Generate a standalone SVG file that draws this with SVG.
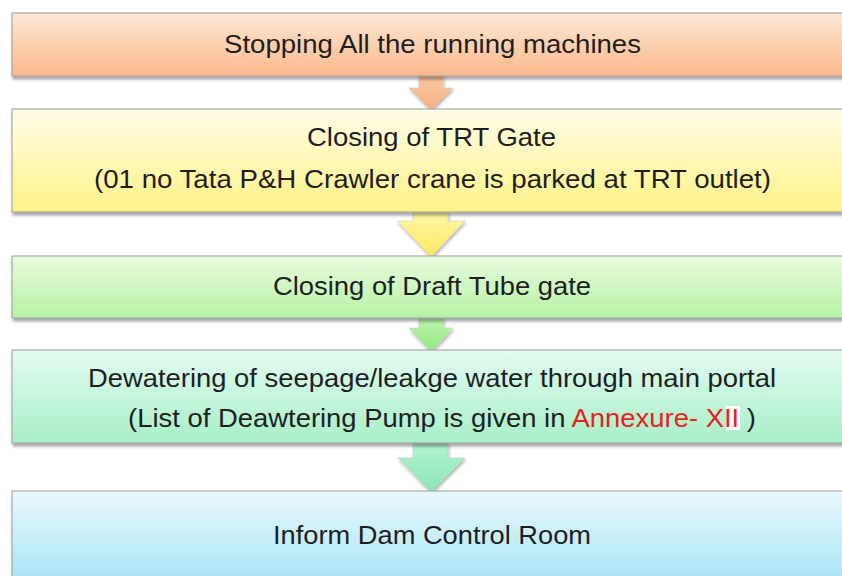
<svg xmlns="http://www.w3.org/2000/svg" width="842" height="576" viewBox="0 0 842 576">
<defs>
<style>
.box{stroke:#9a9a9a;stroke-width:1;filter:url(#sh)}
.arr{stroke:#c9c9c9;stroke-width:0.6;filter:url(#sh2)}
text{font-family:"Liberation Sans",Arial,sans-serif;font-size:26px;fill:#1e1e1e;text-anchor:middle}
.red{fill:#e8221c}
</style>
<filter id="sh" x="-5%" y="-20%" width="110%" height="150%">
<feDropShadow dx="1" dy="3" stdDeviation="1.5" flood-color="#000" flood-opacity="0.35"/>
</filter>
<filter id="sh2" x="-20%" y="-20%" width="140%" height="150%">
<feDropShadow dx="1" dy="2" stdDeviation="1.5" flood-color="#000" flood-opacity="0.3"/>
</filter>
<linearGradient id="gO" x1="0" y1="0" x2="0" y2="1"><stop offset="0" stop-color="#fee8d6"/><stop offset="1" stop-color="#fab98b"/></linearGradient>
<linearGradient id="gY" x1="0" y1="0" x2="0" y2="1"><stop offset="0" stop-color="#fffde8"/><stop offset="1" stop-color="#fff286"/></linearGradient>
<linearGradient id="gG" x1="0" y1="0" x2="0" y2="1"><stop offset="0" stop-color="#e8fbdf"/><stop offset="1" stop-color="#b5f2a2"/></linearGradient>
<linearGradient id="gM" x1="0" y1="0" x2="0" y2="1"><stop offset="0" stop-color="#e2fbf0"/><stop offset="1" stop-color="#a8efc8"/></linearGradient>
<linearGradient id="gB" x1="0" y1="0" x2="0" y2="1"><stop offset="0" stop-color="#e8f8fd"/><stop offset="1" stop-color="#a3e3f6"/></linearGradient>
<linearGradient id="aO" x1="0" y1="0" x2="0" y2="1"><stop offset="0" stop-color="#fcc8a2"/><stop offset="1" stop-color="#f9ae80"/></linearGradient>
<linearGradient id="aY" x1="0" y1="0" x2="0" y2="1"><stop offset="0" stop-color="#fff7a6"/><stop offset="1" stop-color="#ffe860"/></linearGradient>
<linearGradient id="aG" x1="0" y1="0" x2="0" y2="1"><stop offset="0" stop-color="#c0f5ae"/><stop offset="1" stop-color="#8fe87e"/></linearGradient>
<linearGradient id="aM" x1="0" y1="0" x2="0" y2="1"><stop offset="0" stop-color="#b4f2d2"/><stop offset="1" stop-color="#8ae6b3"/></linearGradient>
</defs>
<rect width="842" height="576" fill="#ffffff"/>

<g id="connectors">
<path class="arr" fill="url(#aO)" d="M419,76 H443 V88 H453 L431,110 L409,88 H419 Z"/>
<path class="arr" fill="url(#aY)" d="M413,212 H448 V221 H465 L431,257 L397,221 H413 Z"/>
<path class="arr" fill="url(#aG)" d="M419,318 H443 V328 H453 L431,352 L409,328 H419 Z"/>
<path class="arr" fill="url(#aM)" d="M413,443 H448 V458 H465 L431,492 L398,458 H413 Z"/>
</g>

<g id="node1">
<rect class="box" x="12" y="13" width="850" height="63" fill="url(#gO)"/>
<text x="432.5" y="53" textLength="417" lengthAdjust="spacingAndGlyphs">Stopping All the running machines</text>
</g>
<g id="node2">
<rect class="box" x="12" y="109" width="850" height="103" fill="url(#gY)"/>
<text x="431.5" y="146" textLength="249" lengthAdjust="spacingAndGlyphs">Closing of TRT Gate</text>
<text x="432.5" y="188" textLength="677" lengthAdjust="spacingAndGlyphs">(01 no Tata P&amp;H Crawler crane is parked at TRT outlet)</text>
</g>
<g id="node3">
<rect class="box" x="12" y="256" width="850" height="62" fill="url(#gG)"/>
<text x="432" y="295" textLength="318" lengthAdjust="spacingAndGlyphs">Closing of Draft Tube gate</text>
</g>
<g id="node4">
<rect class="box" x="12" y="350" width="850" height="93" fill="url(#gM)"/>
<text x="432" y="387" textLength="688" lengthAdjust="spacingAndGlyphs">Dewatering of seepage/leakge water through main portal</text>
<rect x="726" y="406" width="14" height="24" fill="#ffffff"/>
<text x="442" y="427" textLength="628" lengthAdjust="spacingAndGlyphs">(List of Deawtering Pump is given in <tspan class="red">Annexure- XII</tspan> )</text>
</g>
<g id="node5">
<rect class="box" x="12" y="491" width="850" height="100" fill="url(#gB)"/>
<text x="432" y="544" textLength="318" lengthAdjust="spacingAndGlyphs">Inform Dam Control Room</text>
</g>
</svg>
